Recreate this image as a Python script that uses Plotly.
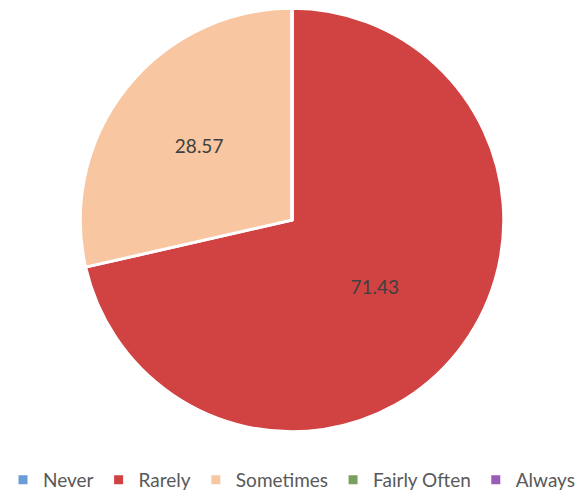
import plotly.graph_objects as go

# Survey response shares (percent)
categories = ["Never", "Rarely", "Sometimes", "Fairly Often", "Always"]
shares = [0, 71.43, 28.57, 0, 0]
colors = ["#6C9BD9", "#D14242", "#F8C6A1", "#7A9F5E", "#9B5CB8"]

labels_text = [f"{v:.2f}" if v > 0 else "" for v in shares]

fig = go.Figure(
    go.Pie(
        labels=categories,
        values=shares,
        text=labels_text,
        textinfo="text",
        textposition="inside",
        insidetextorientation="horizontal",
        sort=False,
        direction="clockwise",
        rotation=0,
        marker=dict(colors=colors, line=dict(color="white", width=3)),
        textfont=dict(family="Lato", size=19, color="#404040"),
        domain=dict(x=[0.1304, 0.8714], y=[0.117, 0.983]),
        hoverinfo="label+value",
    )
)

fig.update_layout(
    width=583,
    height=499,
    margin=dict(l=0, r=0, t=0, b=0),
    paper_bgcolor="white",
    plot_bgcolor="white",
    showlegend=True,
    legend=dict(
        orientation="h",
        x=0.5,
        xanchor="center",
        y=0.018,
        yanchor="middle",
        itemwidth=30,
        font=dict(family="Lato", size=19, color="#595959"),
        traceorder="normal",
    ),
)

fig.write_html("out.html")
